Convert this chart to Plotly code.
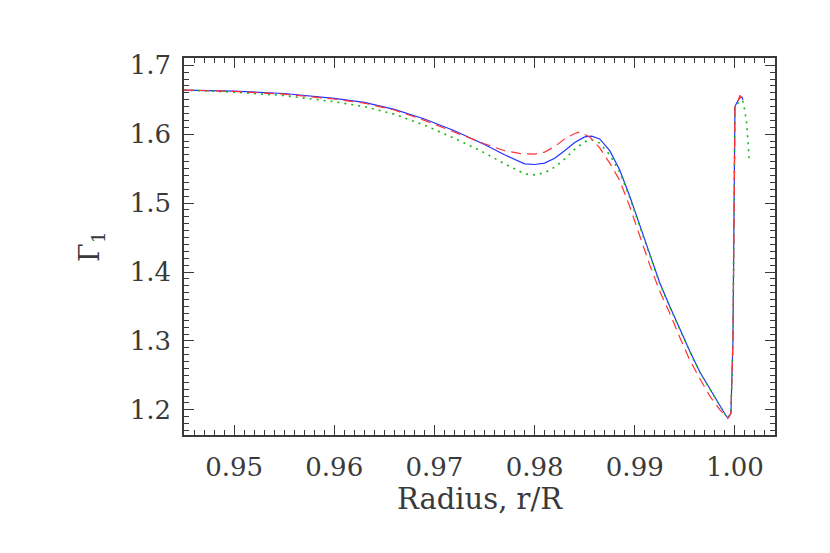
import plotly.graph_objects as go

# ---- data ----
x_blue = [0.945, 0.950, 0.955, 0.960, 0.963, 0.966, 0.969, 0.972, 0.975, 0.977,
          0.979, 0.980, 0.981, 0.982, 0.983, 0.984, 0.985, 0.9857, 0.9865, 0.9875,
          0.9885, 0.9895, 0.9905, 0.9915, 0.9925, 0.9935, 0.9945, 0.9955, 0.9965,
          0.9975, 0.9985, 0.9990, 0.9993, 0.9996, 0.9998, 0.99993, 1.0000, 1.0002,
          1.0005, 1.0007, 1.0008]
y_blue = [1.664, 1.6625, 1.659, 1.652, 1.646, 1.636, 1.622, 1.605, 1.585, 1.570,
          1.557, 1.556, 1.558, 1.565, 1.576, 1.588, 1.596, 1.597, 1.593, 1.576,
          1.548, 1.510, 1.468, 1.425, 1.384, 1.350, 1.317, 1.285, 1.255,
          1.2305, 1.205, 1.194, 1.188, 1.195, 1.300, 1.500, 1.640, 1.646,
          1.653, 1.654, 1.650]

x_red = [0.945, 0.950, 0.955, 0.960, 0.963, 0.966, 0.969, 0.972, 0.975, 0.977,
         0.9785, 0.980, 0.981, 0.982, 0.983, 0.984, 0.9845, 0.9855, 0.9865, 0.9875,
         0.9885, 0.9895, 0.9905, 0.9915, 0.9925, 0.9935, 0.9945, 0.9955, 0.9965,
         0.9975, 0.9985, 0.9990, 0.9993, 0.9996, 0.9998, 0.99993, 1.0000, 1.0003,
         1.0005, 1.0006]
y_red = [1.664, 1.662, 1.658, 1.651, 1.645, 1.635, 1.620, 1.603, 1.586, 1.576,
         1.572, 1.571, 1.574, 1.582, 1.593, 1.601, 1.603, 1.596, 1.580, 1.558,
         1.533, 1.495, 1.452, 1.410, 1.372, 1.340, 1.305, 1.272, 1.245,
         1.220, 1.200, 1.192, 1.188, 1.195, 1.300, 1.500, 1.640, 1.648,
         1.6565, 1.652]

x_green = [0.945, 0.950, 0.955, 0.960, 0.963, 0.966, 0.969, 0.972, 0.975, 0.977,
           0.979, 0.980, 0.981, 0.982, 0.983, 0.984, 0.985, 0.9857, 0.9865, 0.9875,
           0.9885, 0.9895, 0.9905, 0.9915, 0.9925, 0.9935, 0.9945, 0.9955, 0.9965,
           0.9975, 0.9985, 0.9990, 0.9993, 0.9996, 0.9998, 0.99993, 1.0000, 1.0004,
           1.00077, 1.00093, 1.00107, 1.00117, 1.00123, 1.0013, 1.00137, 1.0014, 1.00143]
y_green = [1.664, 1.661, 1.656, 1.647, 1.640, 1.629, 1.613, 1.594, 1.573, 1.557,
           1.5425, 1.541, 1.544, 1.552, 1.564, 1.578, 1.589, 1.592, 1.587, 1.570,
           1.545, 1.508, 1.466, 1.424, 1.383, 1.349, 1.316, 1.284, 1.254,
           1.230, 1.205, 1.194, 1.188, 1.195, 1.300, 1.500, 1.640, 1.647,
           1.6493, 1.6387, 1.6275, 1.6164, 1.6048, 1.5928, 1.5816, 1.571, 1.560]

x_ticks = [0.95, 0.96, 0.97, 0.98, 0.99, 1.00]
x_ticklabels = ["0.95", "0.96", "0.97", "0.98", "0.99", "1.00"]
y_ticks = [1.2, 1.3, 1.4, 1.5, 1.6, 1.7]
y_ticklabels = ["1.2", "1.3", "1.4", "1.5", "1.6", "1.7"]

FONT = "DejaVu Serif"
INK = "#3a3a3a"

fig = go.Figure()
fig.add_trace(go.Scatter(x=x_blue, y=y_blue, mode="lines",
                         line=dict(color="#2233ff", width=1.2)))
fig.add_trace(go.Scatter(x=x_green, y=y_green, mode="lines",
                         line=dict(color="#11bb11", width=1.6, dash="2px,5px")))
fig.add_trace(go.Scatter(x=x_red, y=y_red, mode="lines",
                         line=dict(color="#ff3333", width=1.2, dash="10px,6px")))

axis_common = dict(
    showgrid=False, zeroline=False, showline=True, linecolor=INK, linewidth=1.5,
    mirror="ticks", ticks="inside", ticklen=10, tickwidth=1.3, tickcolor=INK,
    tickfont=dict(family=FONT, size=26, color=INK),
)

fig.update_layout(
    width=830, height=553,
    paper_bgcolor="white", plot_bgcolor="white",
    margin=dict(l=176, r=63, t=50, b=126),
    showlegend=False,
    xaxis=dict(range=[0.945, 1.004], tickvals=x_ticks, ticktext=x_ticklabels,
               minor=dict(dtick=0.001, tick0=0.95, ticklen=5, tickwidth=1.1,
                          tickcolor=INK, ticks="inside"),
               ticklabelstandoff=8,
               title=dict(text="Radius, r/R", font=dict(family=FONT, size=29, color=INK),
                          standoff=4),
               **axis_common),
    yaxis=dict(range=[1.1635, 1.7105], tickvals=y_ticks, ticktext=y_ticklabels,
               minor=dict(dtick=0.01, tick0=1.2, ticklen=5, tickwidth=1.1,
                          tickcolor=INK, ticks="inside"),
               ticklabelstandoff=6,
               title=dict(text="Γ<sub>1</sub>", font=dict(family=FONT, size=27, color=INK),
                          standoff=22),
               **axis_common),
)

fig.write_html("out.html")
